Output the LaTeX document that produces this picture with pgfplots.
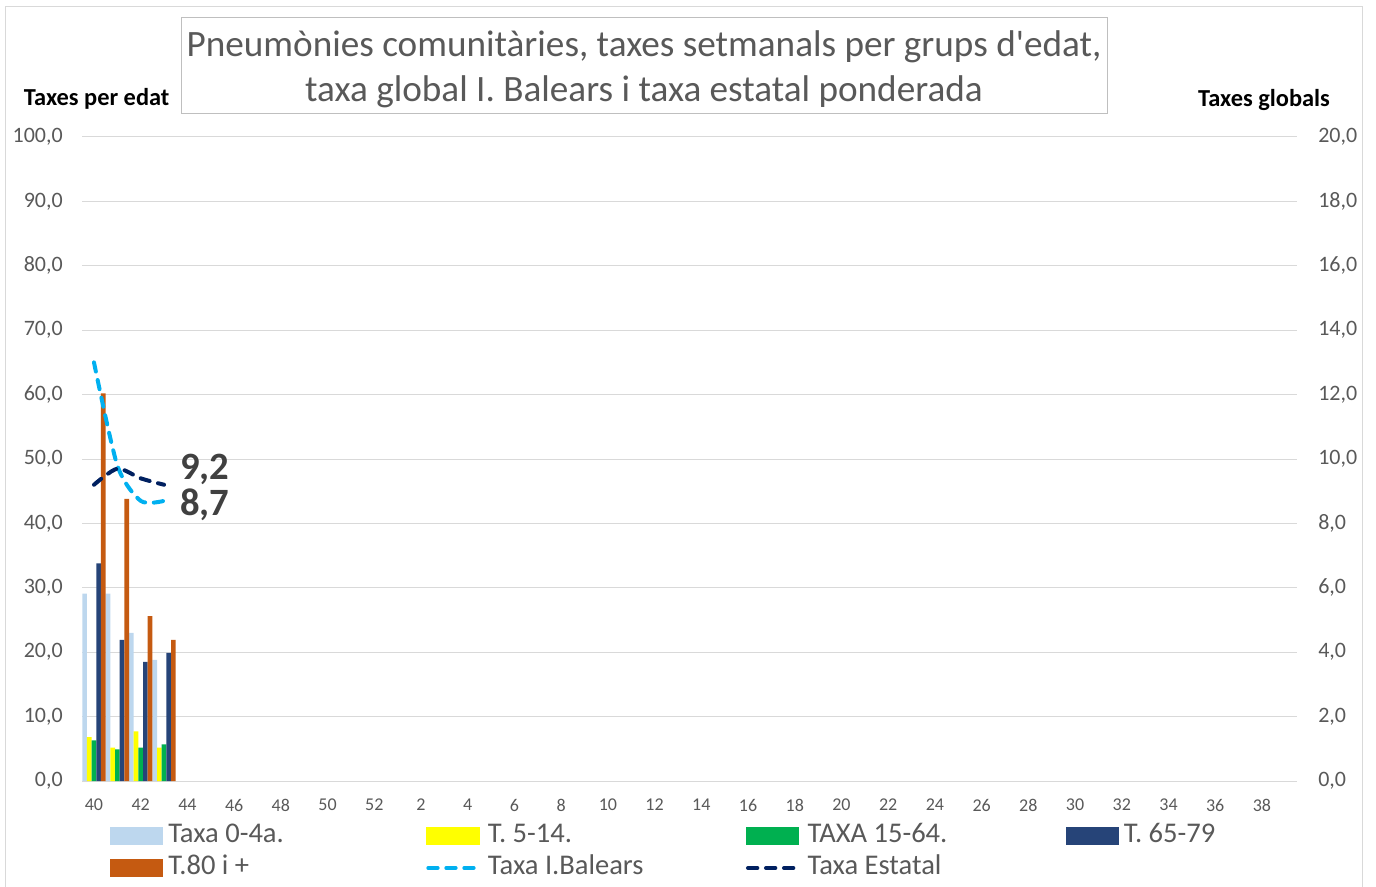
\documentclass[border=0pt]{standalone}
\usepackage{pgfplots}
\pgfplotsset{compat=1.18}
\usepackage{fontspec}
\setmainfont{Carlito}[Ligatures=TeXOff]
\definecolor{c04}{HTML}{BDD7EE}
\definecolor{c514}{HTML}{FFFF00}
\definecolor{c1564}{HTML}{00B050}
\definecolor{c6579}{HTML}{264478}
\definecolor{c80}{HTML}{C55A11}
\definecolor{cib}{HTML}{00B0F0}
\definecolor{cest}{HTML}{002060}
\definecolor{txtgray}{HTML}{595959}
\definecolor{gridgray}{HTML}{D9D9D9}
\definecolor{boxgray}{HTML}{BFBFBF}
\definecolor{lblgray}{HTML}{404040}

\pgfplotsset{
  barleg/.style={legend image code/.code={\fill[##1,draw=none] (0pt,-6.4pt) rectangle (40pt,6.4pt);}},
  lineleg/.style={legend image code/.code={\draw[##1] (1.5pt,0pt) -- (41pt,0pt);}},
  common/.style={
    scale only axis, width=911pt, height=483pt,
    at={(0pt,0pt)}, anchor=south west,
    xmin=-0.5, xmax=51.5,
    tick style={draw=none},
    major tick length=0pt,
    /pgf/number format/assume math mode=true,
  },
  numfmt/.style={/pgf/number format/.cd, fixed, fixed zerofill, precision=1, use comma},
  ibstyle/.style={cib, line width=3pt, dash pattern=on 7pt off 6.5pt, line cap=round},
  eststyle/.style={cest, line width=3pt, dash pattern=on 7pt off 6.5pt, line cap=round},
}

\begin{document}
\begin{tikzpicture}
\begin{scope}[x=0.75pt,y=-0.75pt,shift={(-61.725pt,585.75pt)}]
\draw[gridgray, line width=0.75pt] (6,895) -- (6,7) -- (1362,7) -- (1362,895);
\draw[boxgray, line width=0.75pt, fill=white] (181,18) rectangle (1107,114);
\node[text=txtgray, font=\fontsize{27.9}{33.75}\selectfont, align=center] at (644,69)
  {Pneumònies comunitàries, taxes setmanals per grups d'edat,\\taxa global I. Balears i taxa estatal ponderada};
\node[font=\fontsize{18.3}{22}\selectfont\bfseries] at (96.7,99) {Taxes per edat};
\node[font=\fontsize{18.3}{22}\selectfont\bfseries] at (1264,100) {Taxes globals};
\end{scope}

\begin{axis}[common,
  ymin=0, ymax=100, ytick={0,10,...,100},
  ymajorgrids, grid style={gridgray, line width=0.75pt},
  axis line style={draw=none},
  xtick={0,2,...,50},
  xticklabels={40,42,44,46,48,50,52,2,4,6,8,10,12,14,16,18,20,22,24,26,28,30,32,34,36,38},
  xticklabel style={font=\fontsize{13.5}{16}\selectfont, text=txtgray, anchor=center, inner sep=0pt, yshift=-18pt},
  yticklabel style={font=\fontsize{16.5}{20}\selectfont, text=txtgray, anchor=east, inner sep=0pt, xshift=-14.5pt, numfmt},
  ybar=0pt, bar width=0.2,
]
\addplot[fill=c04, draw=none, bar shift=-0.4] coordinates {(0,29.1) (1,29.1) (2,23.0) (3,18.8)};
\addplot[fill=c514, draw=none, bar shift=-0.2] coordinates {(0,6.8) (1,5.2) (2,7.7) (3,5.2)};
\addplot[fill=c1564, draw=none, bar shift=0] coordinates {(0,6.3) (1,4.9) (2,5.2) (3,5.7)};
\addplot[fill=c6579, draw=none, bar shift=0.2] coordinates {(0,33.8) (1,21.9) (2,18.5) (3,19.9)};
\addplot[fill=c80, draw=none, bar shift=0.4] coordinates {(0,60.2) (1,43.8) (2,25.6) (3,21.9)};
\end{axis}

\begin{axis}[common,
  ymin=0, ymax=20, ytick={0,2,...,20},
  axis y line*=right, axis x line=none,
  axis line style={draw=none},
  yticklabel style={font=\fontsize{16.5}{20}\selectfont, text=txtgray, anchor=west, inner sep=0pt, xshift=15.75pt, numfmt},
  legend columns=4,
  legend style={draw=none, fill=none, at={(0.0228,-0.0647)}, anchor=north west,
    inner sep=0pt, outer sep=0pt, row sep=4pt,
    font=\fontsize{21.4}{24}\selectfont, text=txtgray,
    nodes={inner sep=0pt, text height=15pt, text depth=5pt},
    /tikz/every odd column/.append style={column sep=3.75pt}},
]
\addlegendimage{barleg, fill=c04}
\addlegendentry{\makebox[193.5pt][l]{Taxa 0-4a.}}
\addlegendimage{barleg, fill=c514}
\addlegendentry{\makebox[193.5pt][l]{T. 5-14.}}
\addlegendimage{barleg, fill=c1564}
\addlegendentry{\makebox[193.5pt][l]{TAXA 15-64.}}
\addlegendimage{barleg, fill=c6579}
\addlegendentry{\makebox[193.5pt][l]{T. 65-79}}
\addlegendimage{barleg, fill=c80}
\addlegendentry{\makebox[193.5pt][l]{T.80 i +}}
\addplot[ibstyle, smooth, tension=0.45, lineleg] coordinates {(0,13.0) (1,9.8) (2,8.7) (3,8.7)};
\addlegendentry{\makebox[193.5pt][l]{Taxa I.Balears}}
\addplot[eststyle, smooth, tension=0.45, lineleg] coordinates {(0,9.2) (1,9.7) (2,9.4) (3,9.2)};
\addlegendentry{\makebox[193.5pt][l]{Taxa Estatal}}
\node[anchor=west, font=\fontsize{29}{35}\selectfont\bfseries, text=lblgray, inner sep=0pt, xshift=12pt, yshift=11.8pt] at (axis cs:3,9.2) {9,2};
\node[anchor=west, font=\fontsize{29}{35}\selectfont\bfseries, text=lblgray, inner sep=0pt, xshift=12pt, yshift=-2.7pt] at (axis cs:3,8.7) {8,7};
\end{axis}

\pgfresetboundingbox
\begin{scope}[x=0.75pt,y=-0.75pt,shift={(-61.725pt,585.75pt)}]
\useasboundingbox (0,0) rectangle (1376,886);
\end{scope}
\end{tikzpicture}
\end{document}
